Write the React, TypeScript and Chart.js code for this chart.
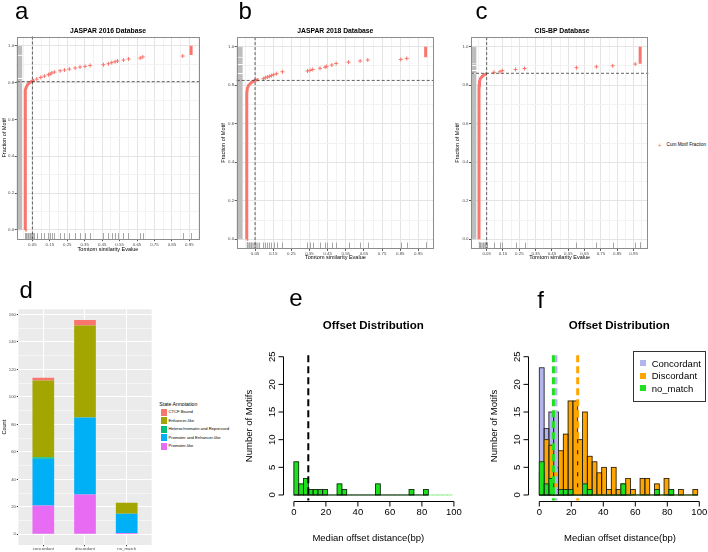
import React, { useEffect, useRef } from "react";
import { Chart, registerables } from "chart.js";

Chart.register(...registerables);

const FONT = '"Liberation Sans", Arial, Helvetica, sans-serif';
const RED = "#F8766D";

type Pt = [number, number];
interface Box { x: number; y: number; w: number; h: number }
interface Area { l: number; r: number; t: number; b: number }

// ---------------- panels a–c : cumulative motif fraction vs Tomtom E-value ----------------
const evalueCutoff = 0.05;
const evalueTicks = [0.05, 0.15, 0.25, 0.35, 0.45, 0.55, 0.65, 0.75, 0.85, 0.95];
const evalueTickLabels = ["0.05", "0.15", "0.25", "0.35", "0.45", "0.55", "0.65", "0.75", "0.85", "0.95"];
const evalueMinorTicks = [0, 0.1, 0.2, 0.3, 0.4, 0.5, 0.6, 0.7, 0.8, 0.9, 1.0];
const fractionTicks = [0, 0.2, 0.4, 0.6, 0.8, 1.0];
const fractionTickLabels = ["0.0", "0.2", "0.4", "0.6", "0.8", "1.0"];
const fractionMinorTicks = [0.1, 0.3, 0.5, 0.7, 0.9];

const jaspar2016Curve: Pt[] = [[0.008, 0], [0.008, 0.70], [0.009, 0.74], [0.011, 0.76], [0.015, 0.775], [0.023, 0.79], [0.035, 0.80], [0.05, 0.808], [0.062, 0.814]];
const jaspar2016Points: Pt[] = [[0.075, 0.819], [0.098, 0.828], [0.119, 0.835], [0.142, 0.843], [0.151, 0.846], [0.161, 0.852], [0.176, 0.857], [0.209, 0.864], [0.234, 0.868], [0.262, 0.873], [0.295, 0.879], [0.323, 0.884], [0.352, 0.888], [0.381, 0.893], [0.457, 0.897], [0.486, 0.902], [0.505, 0.908], [0.524, 0.913], [0.538, 0.917], [0.572, 0.922], [0.601, 0.928], [0.668, 0.933], [0.683, 0.939], [0.912, 0.944]];
const jaspar2016Tail: Pt[] = [[0.96, 0.949], [0.96, 1.0]];
const jaspar2016Fraction = 0.805;

const jaspar2018Curve: Pt[] = [[0.004, 0], [0.004, 0.72], [0.005, 0.76], [0.008, 0.785], [0.015, 0.80], [0.03, 0.815], [0.05, 0.825], [0.07, 0.83]];
const jaspar2018Points: Pt[] = [[0.096, 0.834], [0.107, 0.839], [0.118, 0.843], [0.129, 0.846], [0.14, 0.85], [0.153, 0.855], [0.169, 0.86], [0.201, 0.87], [0.339, 0.874], [0.353, 0.877], [0.368, 0.882], [0.408, 0.888], [0.436, 0.894], [0.445, 0.898], [0.473, 0.905], [0.497, 0.913], [0.565, 0.92], [0.629, 0.926], [0.671, 0.931], [0.853, 0.934], [0.886, 0.939]];
const jaspar2018Tail: Pt[] = [[0.99, 0.945], [0.99, 1.0]];
const jaspar2018Fraction = 0.825;

const cisbpCurve: Pt[] = [[0.003, 0], [0.003, 0.77], [0.004, 0.80], [0.006, 0.82], [0.012, 0.835], [0.025, 0.848], [0.04, 0.856], [0.05, 0.86]];
const cisbpPoints: Pt[] = [[0.095, 0.867], [0.131, 0.87], [0.146, 0.876], [0.227, 0.882], [0.282, 0.887], [0.6, 0.891], [0.722, 0.896], [0.822, 0.901], [0.96, 0.91]];
const cisbpTail: Pt[] = [[0.99, 0.912], [0.99, 1.0]];
const cisbpFraction = 0.862;

// ---------------- panel d : state annotation counts ----------------
const annotationGroups = ["concordant", "discordant", "no_match"];
const promoterLike = [21, 29, 1];
const promoterEnhancerLike = [34, 56, 14];
const heterochromatinRepressed = [1, 0, 0];
const enhancerLike = [56, 67, 8];
const ctcfBound = [2, 4, 0];
const countTicks = [0, 20, 40, 60, 80, 100, 120, 140, 160];
const countMinorTicks = [10, 30, 50, 70, 90, 110, 130, 150];

// ---------------- panels e–f : offset distribution histograms ----------------
const offsetBinStarts = [0, 3, 6, 9, 12, 15, 18, 21, 24, 27, 30, 33, 36, 39, 42, 45, 48, 51, 54, 57, 60, 63, 66, 69, 72, 75, 78, 81, 84, 87, 90, 93, 96];
const offsetBinWidth = 3;
const noMatchCounts = [6, 2, 3, 1, 1, 1, 1, 0, 0, 2, 1, 0, 0, 0, 0, 0, 0, 2, 0, 0, 0, 0, 0, 0, 1, 0, 0, 1, 0, 0, 0, 0, 0];
const concordantCounts = [23, 12, 15, 15, 7, 8, 6, 5, 4, 4, 3, 3, 2, 2, 1, 1, 1, 1, 1, 0, 0, 0, 0, 0, 0, 0, 0, 0, 0, 0, 0, 0, 0];
const discordantCounts = [4, 10, 9, 5, 8, 11, 17, 17, 10, 15, 7, 6, 4, 5, 1, 5, 1, 2, 3, 1, 0, 3, 3, 0, 2, 0, 3, 1, 0, 1, 0, 0, 1];
const offsetAxisTicks = [0, 20, 40, 60, 80, 100];
const offsetAxisLabels = ["0", "20", "40", "60", "80", "100"];
const motifAxisTicks = [0, 5, 10, 15, 20, 25];
const motifAxisLabels = ["0", "5", "10", "15", "20", "25"];
const medianAll = 9;
const medianConcordant = 10.4;
const medianDiscordant = 24;
const medianNoMatch = 8.8;

const C_CONC = "#B4B4EE";
const C_DISC = "#FFA500";
const C_NOMATCH = "#1EE11E";

// ---------------- helpers ----------------
const near = (arr: number[], v: number) => arr.findIndex((t) => Math.abs(t - v) < 1e-6);

interface RugSpec {
  yBands: [number, number][];
  yLines: number[];
  xBand: [number, number];
  xLines: number[];
  cutoff: number;
  fraction: number;
}

function makeRug(curve: Pt[], points: Pt[], tail: Pt[], fraction: number): RugSpec {
  const cy = curve.map((p) => p[1]);
  const ty = tail.map((p) => p[1]);
  const cx = curve.map((p) => p[0]);
  return {
    yBands: [[Math.min(...cy), Math.max(...cy)], [Math.min(...ty), Math.max(...ty)]],
    yLines: points.map((p) => p[1]),
    xBand: [Math.min(...cx), Math.max(...cx)],
    xLines: [...points, ...tail, ...curve].map((p) => p[0]),
    cutoff: evalueCutoff,
    fraction,
  };
}

function makeEcdfPlugin(rug: RugSpec) {
  return {
    id: "ecdfDecor",
    afterDatasetsDraw(chart: any) {
      const { ctx, chartArea: a, scales } = chart;
      const x = scales.x, y = scales.y;
      const rugW = (a.right - a.left) * 0.03;
      const rugH = (a.bottom - a.top) * 0.03;
      ctx.save();
      ctx.setLineDash([]);
      ctx.globalAlpha = 1;
      // left rug (fraction values)
      for (const band of rug.yBands) {
        const top = Math.min(y.getPixelForValue(band[0]), y.getPixelForValue(band[1]));
        const bottom = Math.max(y.getPixelForValue(band[0]), y.getPixelForValue(band[1]));
        ctx.fillStyle = "#bdbdbd";
        ctx.fillRect(a.left, top, rugW, bottom - top);
        ctx.strokeStyle = "#e2e2e2";
        ctx.lineWidth = 0.6;
        ctx.beginPath();
        ctx.moveTo(a.left, top); ctx.lineTo(a.left + rugW, top);
        ctx.moveTo(a.left, bottom); ctx.lineTo(a.left + rugW, bottom);
        ctx.stroke();
      }
      ctx.strokeStyle = "#bdbdbd";
      ctx.lineWidth = 1;
      rug.yLines.forEach((v) => {
        const py = Math.round(y.getPixelForValue(v)) + 0.5;
        ctx.beginPath(); ctx.moveTo(a.left, py); ctx.lineTo(a.left + rugW, py); ctx.stroke();
      });
      // bottom rug (E-values)
      const bx0 = x.getPixelForValue(rug.xBand[0]);
      const bx1 = x.getPixelForValue(rug.xBand[1]);
      ctx.fillStyle = "#c4c4c4";
      ctx.fillRect(bx0, a.bottom - rugH, bx1 - bx0, rugH);
      ctx.strokeStyle = "#a6a6a6";
      rug.xLines.forEach((v) => {
        const px = Math.round(x.getPixelForValue(v)) + 0.5;
        ctx.beginPath(); ctx.moveTo(px, a.bottom); ctx.lineTo(px, a.bottom - rugH); ctx.stroke();
      });
      // reference lines
      ctx.strokeStyle = "#3a3a3a";
      ctx.lineWidth = 0.8;
      ctx.setLineDash([3, 2]);
      const vx = x.getPixelForValue(rug.cutoff);
      ctx.beginPath(); ctx.moveTo(vx, a.top); ctx.lineTo(vx, a.bottom); ctx.stroke();
      const hy = y.getPixelForValue(rug.fraction);
      ctx.beginPath(); ctx.moveTo(a.left, hy); ctx.lineTo(a.right, hy); ctx.stroke();
      ctx.restore();
    },
    afterDraw(chart: any) {
      const { ctx, chartArea: a } = chart;
      ctx.save();
      ctx.strokeStyle = "#8c8c8c";
      ctx.lineWidth = 1;
      ctx.strokeRect(Math.round(a.left) + 0.5, Math.round(a.top) + 0.5, Math.round(a.right - a.left) - 1, Math.round(a.bottom - a.top) - 1);
      ctx.restore();
    },
  };
}

interface EcdfSpec {
  canvas: Box; area: Area; xRange: [number, number];
  curve: Pt[]; points: Pt[]; tail: Pt[]; fraction: number;
  xTitleY: number; yTitleX: number;
}

const AX_TITLE = 5.5;
const AX_TICK = 4.4;

function buildEcdfConfig(s: EcdfSpec): any {
  const lh = AX_TITLE * 1.2;
  const xTickValues = [...evalueMinorTicks, ...evalueTicks].sort((p, q) => p - q);
  const yTickValues = [...fractionTicks, ...fractionMinorTicks].sort((p, q) => p - q);
  const toXY = (arr: Pt[]) => arr.map(([x, y]) => ({ x, y }));
  const lineDs = (data: Pt[]) => ({
    data: toXY(data), showLine: true, borderColor: RED, borderWidth: 3, pointRadius: 0, borderCapStyle: "butt",
  });
  const gridCol = (major: number[]) => (c: any) => (c.tick && near(major, c.tick.value) >= 0 ? "#e4e4e4" : "#f2f2f2");
  const tickCol = (major: number[]) => (c: any) => (c.tick && near(major, c.tick.value) >= 0 ? "#555" : "rgba(0,0,0,0)");
  return {
    type: "scatter",
    data: {
      datasets: [
        lineDs(s.curve),
        lineDs(s.tail),
        {
          label: "Cum Motif Fraction", data: toXY(s.points), showLine: false,
          pointStyle: "cross", pointRadius: 2, pointBorderWidth: 1, pointBorderColor: RED, pointBackgroundColor: RED,
        },
      ],
    },
    options: {
      responsive: false, animation: false, events: [],
      layout: { padding: { left: 0, top: s.area.t - s.canvas.y, right: s.canvas.x + s.canvas.w - s.area.r, bottom: 0 } },
      plugins: { legend: { display: false }, tooltip: { enabled: false } },
      scales: {
        x: {
          type: "linear", min: s.xRange[0], max: s.xRange[1],
          afterBuildTicks: (sc: any) => { sc.ticks = xTickValues.map((v) => ({ value: v })); },
          afterFit: (sc: any) => { sc.height = s.canvas.y + s.canvas.h - s.area.b; },
          ticks: {
            autoSkip: false, maxRotation: 0, minRotation: 0, padding: 0.5, color: "#4d4d4d",
            font: { family: FONT, size: AX_TICK },
            callback: (v: number) => { const i = near(evalueTicks, v); return i >= 0 ? evalueTickLabels[i] : ""; },
          },
          grid: { color: gridCol(evalueTicks), lineWidth: 1, drawTicks: true, tickLength: 2, tickColor: tickCol(evalueTicks) },
          border: { display: false },
          title: {
            display: true, text: "Tomtom similarity Evalue", color: "#000", font: { family: FONT, size: AX_TITLE },
            padding: { top: 0, bottom: s.canvas.y + s.canvas.h - s.xTitleY - lh / 2 },
          },
        },
        y: {
          type: "linear", min: -0.05, max: 1.05,
          afterBuildTicks: (sc: any) => { sc.ticks = yTickValues.map((v) => ({ value: v })); },
          afterFit: (sc: any) => { sc.width = s.area.l - s.canvas.x; },
          ticks: {
            autoSkip: false, padding: 0.5, color: "#4d4d4d", font: { family: FONT, size: AX_TICK },
            callback: (v: number) => { const i = near(fractionTicks, v); return i >= 0 ? fractionTickLabels[i] : ""; },
          },
          grid: { color: gridCol(fractionTicks), lineWidth: 1, drawTicks: true, tickLength: 2, tickColor: tickCol(fractionTicks) },
          border: { display: false },
          title: {
            display: true, text: "Fraction of Motif", color: "#000", font: { family: FONT, size: AX_TITLE },
            padding: { top: s.yTitleX - s.canvas.x - lh / 2, bottom: 0 },
          },
        },
      },
    },
    plugins: [makeEcdfPlugin(makeRug(s.curve, s.points, s.tail, s.fraction))],
  };
}

const annotBgPlugin = {
  id: "annotBg",
  beforeDraw(chart: any) {
    const { ctx, chartArea: a } = chart;
    ctx.save();
    ctx.fillStyle = "#EBEBEB";
    ctx.fillRect(a.left, a.top, a.right - a.left, a.bottom - a.top);
    ctx.restore();
  },
};

const annotationSeries = [
  { label: "Promoter-like", values: promoterLike, color: "#E76BF3" },
  { label: "Promoter and Enhancer-like", values: promoterEnhancerLike, color: "#00B0F6" },
  { label: "Heterochromatin and Repressed", values: heterochromatinRepressed, color: "#00BF7D" },
  { label: "Enhancer-like", values: enhancerLike, color: "#A3A500" },
  { label: "CTCF Bound", values: ctcfBound, color: "#F8766D" },
];

const D_CANVAS: Box = { x: 0, y: 300, w: 156, h: 252 };
const D_AREA: Area = { l: 18.3, r: 151.7, t: 309.3, b: 545 };

function buildAnnotationConfig(): any {
  const c = D_CANVAS, a = D_AREA;
  const lh = AX_TITLE * 1.2;
  const yTickValues = [...countTicks, ...countMinorTicks].sort((p, q) => p - q);
  return {
    type: "bar",
    data: {
      datasets: annotationSeries.map((s) => ({
        label: s.label,
        data: annotationGroups.map((_g, i) => ({ x: i + 1, y: s.values[i] })),
        backgroundColor: s.color, borderWidth: 0, barPercentage: 0.52, categoryPercentage: 1,
      })),
    },
    options: {
      responsive: false, animation: false, events: [],
      layout: { padding: { left: 0, top: a.t - c.y, right: c.x + c.w - a.r, bottom: 0 } },
      plugins: { legend: { display: false }, tooltip: { enabled: false } },
      scales: {
        x: {
          type: "linear", min: 0.4, max: 3.6, stacked: true, offset: false,
          afterBuildTicks: (sc: any) => { sc.ticks = annotationGroups.map((_g, i) => ({ value: i + 1 })); },
          afterFit: (sc: any) => { sc.height = c.y + c.h - a.b; },
          ticks: {
            autoSkip: false, maxRotation: 0, minRotation: 0, padding: 0, color: "#4d4d4d",
            font: { family: FONT, size: 4.3 },
            callback: (v: number) => annotationGroups[Math.round(v) - 1] ?? "",
          },
          grid: { offset: false, color: "#ffffff", lineWidth: 1, drawTicks: true, tickLength: 1.2, tickColor: "#333" },
          border: { display: false },
        },
        y: {
          type: "linear", min: -7.8, max: 163.8, stacked: true,
          afterBuildTicks: (sc: any) => { sc.ticks = yTickValues.map((v) => ({ value: v })); },
          afterFit: (sc: any) => { sc.width = a.l - c.x; },
          ticks: {
            autoSkip: false, padding: 0.8, color: "#4d4d4d", font: { family: FONT, size: 4.3 },
            callback: (v: number) => (near(countTicks, v) >= 0 ? String(v) : ""),
          },
          grid: {
            color: "#ffffff",
            lineWidth: (ctx: any) => (ctx.tick && near(countTicks, ctx.tick.value) >= 0 ? 1 : 0.5),
            drawTicks: true, tickLength: 1.5,
            tickColor: (ctx: any) => (ctx.tick && near(countTicks, ctx.tick.value) >= 0 ? "#333" : "rgba(0,0,0,0)"),
          },
          border: { display: false },
          title: {
            display: true, text: "Count", color: "#000", font: { family: FONT, size: AX_TITLE },
            padding: { top: 4.2 - c.x - lh / 2, bottom: 0 },
          },
        },
      },
    },
    plugins: [annotBgPlugin],
  };
}

// ---- base-R style histogram decorations ----
interface HistDecor {
  baseline: [number, number];
  medians: { value: number; color: string; width: number }[];
}

function makeHistPlugin(d: HistDecor) {
  return {
    id: "histDecor",
    afterDatasetDraw(chart: any, args: any) {
      const ctx = chart.ctx;
      ctx.save();
      ctx.strokeStyle = "#1a1a1a";
      ctx.lineWidth = 0.8;
      args.meta.data.forEach((el: any) => {
        const { x, y, base, width } = el.getProps(["x", "y", "base", "width"], true);
        if (Math.abs(base - y) < 0.01) return;
        ctx.strokeRect(x - width / 2, y, width, base - y);
      });
      ctx.restore();
    },
    afterDatasetsDraw(chart: any) {
      const { ctx, chartArea: a, scales } = chart;
      const x = scales.x, y = scales.y;
      ctx.save();
      ctx.strokeStyle = "#111";
      ctx.lineWidth = 1;
      const by = y.getPixelForValue(0);
      ctx.beginPath(); ctx.moveTo(x.getPixelForValue(d.baseline[0]), by); ctx.lineTo(x.getPixelForValue(d.baseline[1]), by); ctx.stroke();
      d.medians.forEach((m) => {
        ctx.strokeStyle = m.color;
        ctx.lineWidth = m.width;
        ctx.setLineDash([7, 4]);
        const px = x.getPixelForValue(m.value);
        ctx.beginPath(); ctx.moveTo(px, a.top + 4); ctx.lineTo(px, a.bottom); ctx.stroke();
      });
      ctx.restore();
    },
    afterDraw(chart: any) {
      const { ctx, chartArea: a, scales } = chart;
      const x = scales.x, y = scales.y;
      ctx.save();
      ctx.strokeStyle = "#000";
      ctx.fillStyle = "#000";
      ctx.lineWidth = 1;
      ctx.font = `9.5px ${FONT}`;
      // x axis
      const ay = Math.round(a.bottom) + 0.5;
      const xs = offsetAxisTicks.map((v) => x.getPixelForValue(v));
      ctx.beginPath(); ctx.moveTo(xs[0], ay); ctx.lineTo(xs[xs.length - 1], ay); ctx.stroke();
      ctx.textAlign = "center";
      ctx.textBaseline = "middle";
      xs.forEach((px, i) => {
        ctx.beginPath(); ctx.moveTo(px, ay); ctx.lineTo(px, ay + 5); ctx.stroke();
        ctx.fillText(offsetAxisLabels[i], px, ay + 11);
      });
      // y axis
      const ax = Math.round(a.left) + 0.5;
      const ys = motifAxisTicks.map((v) => y.getPixelForValue(v));
      ctx.beginPath(); ctx.moveTo(ax, ys[0]); ctx.lineTo(ax, ys[ys.length - 1]); ctx.stroke();
      ys.forEach((py, i) => {
        ctx.beginPath(); ctx.moveTo(ax, py); ctx.lineTo(ax - 5, py); ctx.stroke();
        ctx.save();
        ctx.translate(ax - 11, py);
        ctx.rotate(-Math.PI / 2);
        ctx.fillText(motifAxisLabels[i], 0, 0);
        ctx.restore();
      });
      ctx.restore();
    },
  };
}

interface HistSpec {
  canvas: Box; area: Area;
  series: { label: string; counts: number[]; color: string }[];
  medians: { value: number; color: string; width: number }[];
}

function buildHistConfig(s: HistSpec): any {
  const nonEmpty = (counts: number[]) => counts.map((v, i) => (v > 0 ? i : -1)).filter((i) => i >= 0);
  const idx = s.series.flatMap((ser) => nonEmpty(ser.counts));
  const first = Math.min(...idx), last = Math.max(...idx);
  return {
    type: "bar",
    data: {
      datasets: s.series.map((ser) => ({
        label: ser.label,
        data: offsetBinStarts.map((b, i) => ({ x: b + offsetBinWidth / 2, y: ser.counts[i] })),
        backgroundColor: ser.color, borderWidth: 0, grouped: false, barPercentage: 1, categoryPercentage: 1,
      })),
    },
    options: {
      responsive: false, animation: false, events: [],
      layout: {
        padding: {
          left: s.area.l - s.canvas.x, right: s.canvas.x + s.canvas.w - s.area.r,
          top: s.area.t - s.canvas.y, bottom: s.canvas.y + s.canvas.h - s.area.b,
        },
      },
      plugins: { legend: { display: false }, tooltip: { enabled: false } },
      scales: {
        x: {
          type: "linear", display: false, min: -7, max: 104, offset: false, grid: { offset: false },
          afterBuildTicks: (sc: any) => { sc.ticks = offsetAxisTicks.map((v) => ({ value: v })); },
        },
        y: {
          type: "linear", display: false, min: -1, max: 26,
          afterBuildTicks: (sc: any) => { sc.ticks = motifAxisTicks.map((v) => ({ value: v })); },
        },
      },
    },
    plugins: [makeHistPlugin({ baseline: [offsetBinStarts[first], offsetBinStarts[last] + offsetBinWidth], medians: s.medians })],
  };
}

// ---------------- React pieces ----------------
function ChartCanvas({ box, build }: { box: Box; build: () => any }) {
  const ref = useRef<HTMLCanvasElement>(null);
  useEffect(() => {
    const chart = new Chart(ref.current as HTMLCanvasElement, build());
    return () => chart.destroy();
  }, []);
  return (
    <canvas
      ref={ref}
      width={box.w}
      height={box.h}
      style={{ position: "absolute", left: box.x, top: box.y, width: box.w, height: box.h }}
    />
  );
}

function Txt(props: {
  x: number; y: number; size: number; bold?: boolean; anchor?: "start" | "middle" | "end";
  rotate?: boolean; color?: string; children: React.ReactNode;
}) {
  const { x, y, size, bold, anchor = "start", rotate, color = "#000", children } = props;
  const shift = anchor === "middle" ? "translateX(-50%)" : anchor === "end" ? "translateX(-100%)" : "none";
  return (
    <div
      style={{
        position: "absolute", left: x, top: y, width: 0, height: 0,
        transform: rotate ? "rotate(-90deg)" : undefined, transformOrigin: "0 0",
      }}
    >
      <span
        style={{
          position: "absolute", left: 0, top: -0.8465 * size, transform: shift,
          whiteSpace: "nowrap", fontSize: size, lineHeight: `${size}px`, fontFamily: FONT,
          fontWeight: bold ? "bold" : "normal", color,
        }}
      >
        {children}
      </span>
    </div>
  );
}

const specA: EcdfSpec = {
  canvas: { x: 0, y: 20, w: 206, h: 234 }, area: { l: 16.7, r: 199.3, t: 36.5, b: 239.2 },
  xRange: [-0.04, 1.007], curve: jaspar2016Curve, points: jaspar2016Points, tail: jaspar2016Tail,
  fraction: jaspar2016Fraction, xTitleY: 249, yTitleX: 4.2,
};
const specB: EcdfSpec = {
  canvas: { x: 215, y: 20, w: 225, h: 244 }, area: { l: 236.7, r: 434, t: 37.1, b: 248.9 },
  xRange: [-0.051, 1.036], curve: jaspar2018Curve, points: jaspar2018Points, tail: jaspar2018Tail,
  fraction: jaspar2018Fraction, xTitleY: 257.7, yTitleX: 223.5,
};
const specC: EcdfSpec = {
  canvas: { x: 450, y: 20, w: 205, h: 244 }, area: { l: 471, r: 648.3, t: 37.1, b: 248.9 },
  xRange: [-0.046, 1.04], curve: cisbpCurve, points: cisbpPoints, tail: cisbpTail,
  fraction: cisbpFraction, xTitleY: 257.7, yTitleX: 457.5,
};

const specE: HistSpec = {
  canvas: { x: 235, y: 300, w: 235, h: 252 }, area: { l: 282.7, r: 460.3, t: 351.2, b: 500.5 },
  series: [{ label: "no_match", counts: noMatchCounts, color: C_NOMATCH }],
  medians: [{ value: medianAll, color: "#000", width: 2 }],
};
const specF: HistSpec = {
  canvas: { x: 470, y: 300, w: 238, h: 252 }, area: { l: 528.1, r: 705.7, t: 351.2, b: 500.5 },
  series: [
    { label: "no_match", counts: noMatchCounts, color: C_NOMATCH },
    { label: "Discordant", counts: discordantCounts, color: C_DISC },
    { label: "Concordant", counts: concordantCounts, color: C_CONC },
  ],
  medians: [
    { value: medianConcordant, color: C_CONC, width: 3 },
    { value: medianDiscordant, color: C_DISC, width: 3 },
    { value: medianNoMatch, color: C_NOMATCH, width: 3 },
  ],
};

const dLegend = [
  { label: "CTCF Bound", color: "#F8766D" },
  { label: "Enhancer-like", color: "#A3A500" },
  { label: "Heterochromatin and Repressed", color: "#00BF7D" },
  { label: "Promoter and Enhancer-like", color: "#00B0F6" },
  { label: "Promoter-like", color: "#E76BF3" },
];
const fLegend = [
  { label: "Concordant", color: C_CONC },
  { label: "Discordant", color: C_DISC },
  { label: "no_match", color: C_NOMATCH },
];

export default function App() {
  return (
    <div style={{ position: "absolute", left: 0, top: 0, width: 708, height: 552, background: "#fff", overflow: "hidden", fontFamily: FONT }}>
      <ChartCanvas box={specA.canvas} build={() => buildEcdfConfig(specA)} />
      <ChartCanvas box={specB.canvas} build={() => buildEcdfConfig(specB)} />
      <ChartCanvas box={specC.canvas} build={() => buildEcdfConfig(specC)} />
      <ChartCanvas box={D_CANVAS} build={buildAnnotationConfig} />
      <ChartCanvas box={specE.canvas} build={() => buildHistConfig(specE)} />
      <ChartCanvas box={specF.canvas} build={() => buildHistConfig(specF)} />

      {/* panel letters */}
      <Txt x={15} y={19.5} size={24}>a</Txt>
      <Txt x={238.5} y={19.3} size={24}>b</Txt>
      <Txt x={475.5} y={19.5} size={24}>c</Txt>
      <Txt x={19.5} y={298.3} size={24}>d</Txt>
      <Txt x={289.3} y={306.8} size={24}>e</Txt>
      <Txt x={537.3} y={308.3} size={24}>f</Txt>

      {/* a–c titles */}
      <Txt x={108} y={33.4} size={6.8} bold anchor="middle">JASPAR 2016 Database</Txt>
      <Txt x={335.3} y={34} size={6.8} bold anchor="middle">JASPAR 2018 Database</Txt>
      <Txt x={562} y={33.7} size={6.8} bold anchor="middle">CIS-BP Database</Txt>

      {/* c legend */}
      <Txt x={657.8} y={148} size={6.5} color={RED}>+</Txt>
      <Txt x={666.5} y={147.4} size={4.7}>Cum Motif Fraction</Txt>

      {/* d legend */}
      <Txt x={159.3} y={406.2} size={5.2}>State Annotation</Txt>
      {dLegend.map((it, i) => (
        <React.Fragment key={it.label}>
          <div style={{ position: "absolute", left: 160.8, top: 408.9 + i * 8.5, width: 6.2, height: 7, background: it.color }} />
          <Txt x={168.5} y={413.9 + i * 8.5} size={4.2}>{it.label}</Txt>
        </React.Fragment>
      ))}

      {/* e/f titles */}
      <Txt x={373.3} y={330.1} size={11.5} bold anchor="middle">Offset Distribution</Txt>
      <Txt x={619.3} y={330.1} size={11.5} bold anchor="middle">Offset Distribution</Txt>
      <Txt x={368.3} y={541.5} size={9.5} anchor="middle">Median offset distance(bp)</Txt>
      <Txt x={620} y={541} size={9.5} anchor="middle">Median offset distance(bp)</Txt>
      <Txt x={251.7} y={425.7} size={9.5} anchor="middle" rotate>Number of Motifs</Txt>
      <Txt x={496.7} y={425.7} size={9.5} anchor="middle" rotate>Number of Motifs</Txt>

      {/* f legend */}
      <div style={{ position: "absolute", left: 633.3, top: 350.7, width: 73, height: 51, border: "1px solid #333", boxSizing: "border-box" }} />
      {fLegend.map((it, i) => (
        <React.Fragment key={it.label}>
          <div style={{ position: "absolute", left: 640.3, top: 360.3 + i * 12.5, width: 6, height: 6, background: it.color }} />
          <Txt x={651.7} y={366.8 + i * 12.5} size={9.5}>{it.label}</Txt>
        </React.Fragment>
      ))}
    </div>
  );
}
